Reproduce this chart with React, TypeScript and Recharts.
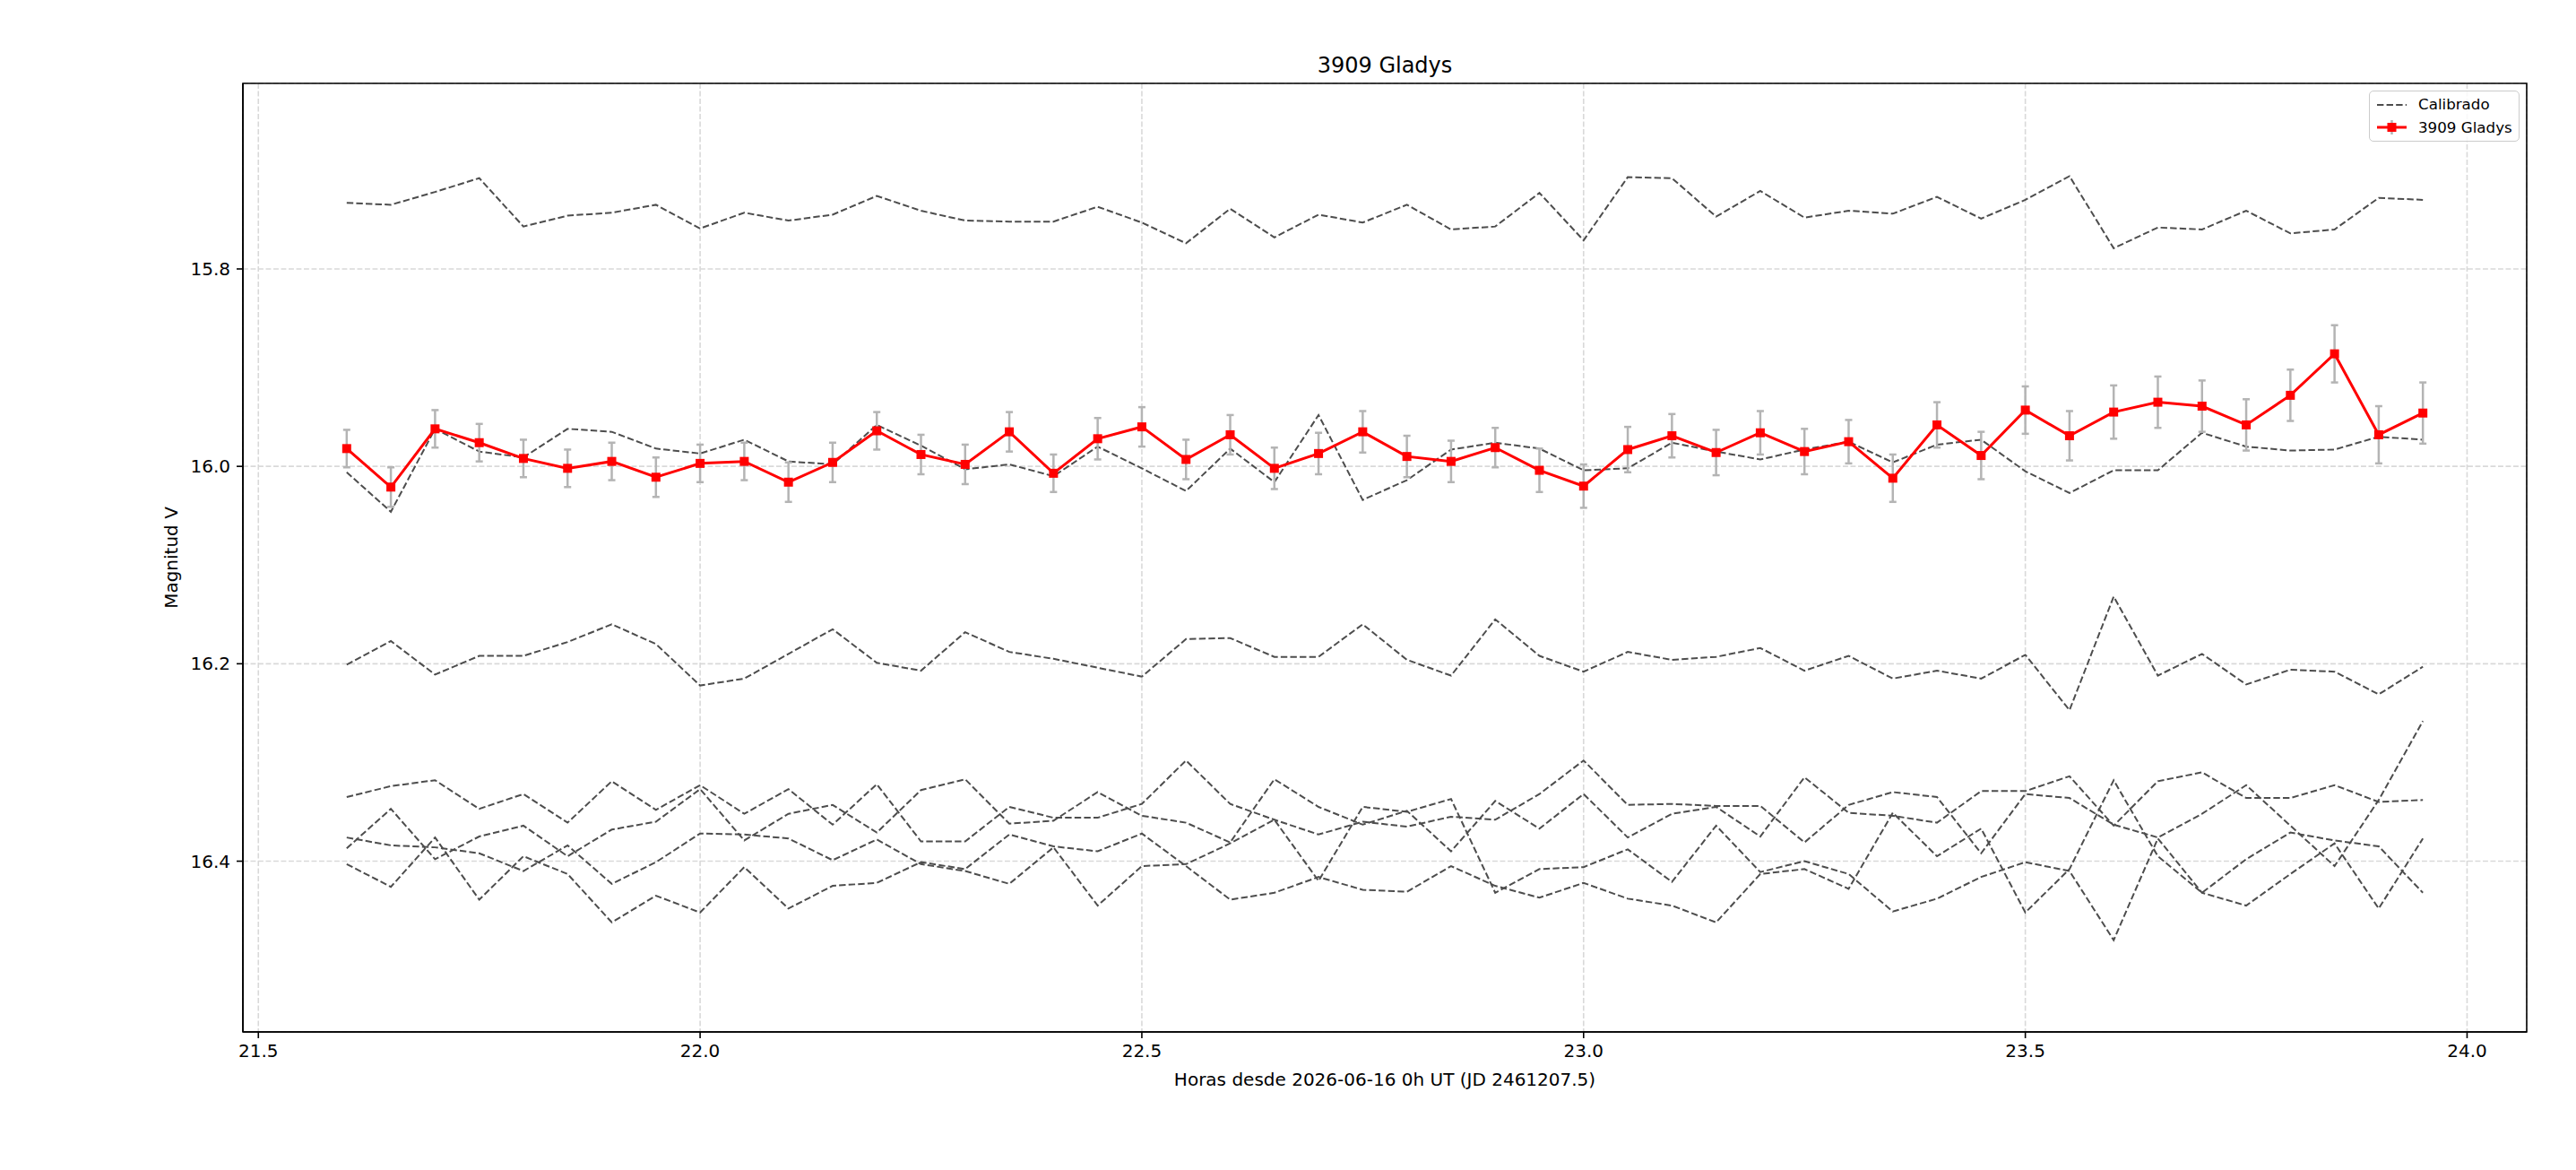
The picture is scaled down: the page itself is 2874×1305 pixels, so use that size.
import { LineChart, Line, XAxis, YAxis, CartesianGrid, ErrorBar, ReferenceArea } from 'recharts';

// hours since 2026-06-16 0h UT
const hours = [
  21.6, 21.65, 21.7, 21.75, 21.8, 21.85, 21.9, 21.95, 22.0, 22.05, 22.1, 22.15,
  22.2, 22.25, 22.3, 22.35, 22.4, 22.45, 22.5, 22.55, 22.6, 22.65, 22.7, 22.75,
  22.8, 22.85, 22.9, 22.95, 23.0, 23.05, 23.1, 23.15, 23.2, 23.25, 23.3, 23.35,
  23.4, 23.45, 23.5, 23.55, 23.6, 23.65, 23.7, 23.75, 23.8, 23.85, 23.9, 23.95,
];

const gladys = [
  15.982, 16.021, 15.962, 15.976, 15.992, 16.002, 15.995, 16.011, 15.997, 15.995, 16.016, 15.996,
  15.964, 15.988, 15.998, 15.965, 16.007, 15.972, 15.96, 15.993, 15.968, 16.002, 15.987, 15.965,
  15.99, 15.995, 15.981, 16.004, 16.02, 15.983, 15.969, 15.986, 15.966, 15.985, 15.975, 16.012,
  15.958, 15.989, 15.943, 15.969, 15.945, 15.935, 15.939, 15.958, 15.928, 15.886, 15.968, 15.946,
];

const gladysErr = [
  0.019, 0.02, 0.019, 0.019, 0.019, 0.019, 0.019, 0.02, 0.019, 0.019, 0.02, 0.02,
  0.019, 0.02, 0.02, 0.02, 0.019, 0.021, 0.02, 0.02, 0.02, 0.021, 0.021, 0.021,
  0.021, 0.021, 0.02, 0.022, 0.022, 0.023, 0.022, 0.023, 0.022, 0.023, 0.022, 0.024,
  0.023, 0.024, 0.024, 0.025, 0.027, 0.026, 0.026, 0.026, 0.026, 0.029, 0.029, 0.031,
];

// comparison stars (calibrated)
const cal1 = [
  15.733, 15.735, 15.722, 15.708, 15.757, 15.746, 15.743, 15.735, 15.759, 15.743, 15.751, 15.745,
  15.726, 15.741, 15.751, 15.752, 15.752, 15.737, 15.753, 15.774, 15.739, 15.768, 15.745, 15.753,
  15.735, 15.76, 15.757, 15.723, 15.771, 15.707, 15.708, 15.747, 15.721, 15.748, 15.741, 15.744,
  15.727, 15.749, 15.73, 15.706, 15.779, 15.758, 15.76, 15.741, 15.764, 15.76, 15.728, 15.73,
];
const cal2 = [
  16.006, 16.046, 15.962, 15.985, 15.991, 15.962, 15.965, 15.982, 15.987, 15.973, 15.995, 15.998,
  15.958, 15.979, 16.003, 15.998, 16.01, 15.98, 16.002, 16.025, 15.982, 16.016, 15.948, 16.034,
  16.014, 15.983, 15.976, 15.982, 16.004, 16.002, 15.976, 15.985, 15.993, 15.983, 15.975, 15.996,
  15.978, 15.973, 16.005, 16.027, 16.004, 16.004, 15.966, 15.98, 15.984, 15.983, 15.97, 15.973,
];
const cal3 = [
  16.201, 16.177, 16.211, 16.192, 16.192, 16.178, 16.16, 16.18, 16.222, 16.215, 16.19, 16.165,
  16.199, 16.207, 16.168, 16.188, 16.195, 16.204, 16.213, 16.175, 16.174, 16.193, 16.193, 16.16,
  16.196, 16.212, 16.155, 16.192, 16.208, 16.188, 16.196, 16.193, 16.184, 16.207, 16.192, 16.215,
  16.207, 16.215, 16.191, 16.247, 16.132, 16.212, 16.19, 16.221, 16.206, 16.208, 16.231, 16.203,
];
const cal4 = [
  16.335, 16.324, 16.318, 16.347, 16.332, 16.361, 16.319, 16.348, 16.323, 16.352, 16.327, 16.363,
  16.322, 16.38, 16.38, 16.345, 16.356, 16.356, 16.342, 16.298, 16.342, 16.358, 16.373, 16.36,
  16.365, 16.355, 16.358, 16.332, 16.298, 16.343, 16.342, 16.344, 16.344, 16.381, 16.343, 16.33,
  16.335, 16.392, 16.332, 16.336, 16.363, 16.376, 16.352, 16.323, 16.364, 16.405, 16.338, 16.258,
];
const cal5 = [
  16.387, 16.347, 16.398, 16.375, 16.364, 16.395, 16.368, 16.36, 16.327, 16.379, 16.352, 16.343,
  16.371, 16.328, 16.317, 16.362, 16.359, 16.33, 16.354, 16.361, 16.381, 16.317, 16.345, 16.363,
  16.349, 16.39, 16.339, 16.367, 16.332, 16.376, 16.352, 16.345, 16.375, 16.315, 16.351, 16.354,
  16.361, 16.329, 16.329, 16.314, 16.364, 16.319, 16.31, 16.336, 16.336, 16.323, 16.34, 16.338,
];
const cal6 = [
  16.376, 16.384, 16.386, 16.392, 16.41, 16.384, 16.423, 16.401, 16.372, 16.373, 16.377, 16.399,
  16.378, 16.403, 16.41, 16.423, 16.386, 16.445, 16.405, 16.403, 16.382, 16.358, 16.42, 16.345,
  16.35, 16.337, 16.432, 16.408, 16.406, 16.388, 16.421, 16.364, 16.411, 16.4, 16.413, 16.451,
  16.438, 16.416, 16.401, 16.41, 16.48, 16.377, 16.432, 16.445, 16.413, 16.382, 16.448, 16.377,
];
const cal7 = [
  16.403, 16.426, 16.376, 16.439, 16.395, 16.413, 16.462, 16.435, 16.452, 16.406, 16.448, 16.425,
  16.422, 16.401, 16.408, 16.373, 16.385, 16.39, 16.372, 16.405, 16.439, 16.432, 16.416, 16.429,
  16.431, 16.405, 16.425, 16.437, 16.422, 16.438, 16.445, 16.462, 16.413, 16.408, 16.428, 16.351,
  16.395, 16.367, 16.452, 16.408, 16.318, 16.395, 16.432, 16.398, 16.371, 16.379, 16.385, 16.432,
];

const xTicks = [21.5, 22.0, 22.5, 23.0, 23.5, 24.0];
const yTicks = [15.8, 16.0, 16.2, 16.4];
const xDomain: [number, number] = [21.4825, 24.0675];
const yDomain: [number, number] = [15.612, 16.573];

const calSeries = [cal1, cal2, cal3, cal4, cal5, cal6, cal7];
const calKeys = calSeries.map((_, k) => `c${k + 1}`);

const rows = hours.map((h, i) => {
  const row: Record<string, number> = { h, gladys: gladys[i], err: gladysErr[i] };
  calSeries.forEach((s, k) => {
    row[calKeys[k]] = s[i];
  });
  return row;
});

const FONT = '"DejaVu Sans", sans-serif';
const CAL_COLOR = '#4d4d4d';
const CAL_DASH = '7.4 3.2';

const SquareDot = (props: any) => {
  const { cx, cy, index } = props;
  if (cx == null || cy == null) return null;
  return <rect key={`sq-${index}`} x={cx - 5} y={cy - 5} width={10} height={10} fill="#ff0000" />;
};

const tickStyle = { fontSize: 20, fill: '#000', fontFamily: FONT };

export default function App() {
  return (
    <div
      style={{
        position: 'absolute',
        left: 0,
        top: 0,
        width: 2874,
        height: 1305,
        background: '#fff',
        fontFamily: FONT,
        color: '#000',
      }}
    >
      <LineChart
        width={2874}
        height={1305}
        data={rows}
        margin={{ top: 93, right: 55, bottom: 114, left: 191 }}
        style={{ position: 'absolute', left: 0, top: 0 }}
      >
        <CartesianGrid stroke="#d9d9d9" strokeWidth={1.6} strokeDasharray="5.9 2.6" />
        <XAxis
          dataKey="h"
          type="number"
          domain={xDomain}
          allowDataOverflow
          ticks={xTicks}
          tickFormatter={(v: number) => v.toFixed(1)}
          height={40}
          tickSize={7}
          tickMargin={7}
          tick={tickStyle}
          axisLine={{ stroke: '#000', strokeWidth: 1.6 }}
          tickLine={{ stroke: '#000', strokeWidth: 1.6 }}
        />
        <YAxis
          type="number"
          domain={yDomain}
          allowDataOverflow
          reversed
          ticks={yTicks}
          tickFormatter={(v: number) => v.toFixed(1)}
          width={80}
          tickSize={7}
          tickMargin={7}
          tick={tickStyle}
          axisLine={{ stroke: '#000', strokeWidth: 1.6 }}
          tickLine={{ stroke: '#000', strokeWidth: 1.6 }}
        />
        <ReferenceArea
          x1={xDomain[0]}
          x2={xDomain[1]}
          y1={yDomain[0]}
          y2={yDomain[1]}
          fill="none"
          stroke="#000"
          strokeWidth={1.6}
          ifOverflow="visible"
        />
        {calKeys.map((k) => (
          <Line
            key={k}
            dataKey={k}
            type="linear"
            stroke={CAL_COLOR}
            strokeWidth={2}
            strokeDasharray={CAL_DASH}
            dot={false}
            activeDot={false}
            isAnimationActive={false}
          />
        ))}
        <Line
          dataKey="gladys"
          type="linear"
          stroke="#ff0000"
          strokeWidth={3}
          dot={SquareDot}
          activeDot={false}
          isAnimationActive={false}
        >
          <ErrorBar dataKey="err" direction="y" width={4} stroke="#b4b4b4" strokeWidth={2.5} isAnimationActive={false} />
        </Line>
      </LineChart>

      {/* title */}
      <div
        style={{
          position: 'absolute',
          left: 1545,
          top: 73,
          transform: 'translate(-50%, -50%)',
          fontSize: 24,
          whiteSpace: 'nowrap',
        }}
      >
        3909 Gladys
      </div>

      {/* x label */}
      <div
        style={{
          position: 'absolute',
          left: 1545,
          top: 1204,
          transform: 'translate(-50%, -50%)',
          fontSize: 20,
          whiteSpace: 'nowrap',
        }}
      >
        Horas desde 2026-06-16 0h UT (JD 2461207.5)
      </div>

      {/* y label */}
      <div
        style={{
          position: 'absolute',
          left: 191,
          top: 622,
          transform: 'translate(-50%, -50%) rotate(-90deg)',
          fontSize: 20,
          whiteSpace: 'nowrap',
        }}
      >
        Magnitud V
      </div>

      {/* legend */}
      <div
        style={{
          position: 'absolute',
          left: 2643,
          top: 101,
          width: 168,
          height: 57,
          boxSizing: 'border-box',
          background: 'rgba(255,255,255,0.8)',
          border: '1.6px solid #cccccc',
          borderRadius: 5,
          padding: '2px 0 2px 8px',
          fontSize: 16.7,
          lineHeight: '25.5px',
          whiteSpace: 'nowrap',
        }}
      >
        <div style={{ display: 'flex', alignItems: 'center', height: 25.5 }}>
          <svg width={33} height={12} style={{ flexShrink: 0 }}>
            <line x1={0} y1={6} x2={33} y2={6} stroke={CAL_COLOR} strokeWidth={2} strokeDasharray={CAL_DASH} />
          </svg>
          <span style={{ marginLeft: 13 }}>Calibrado</span>
        </div>
        <div style={{ display: 'flex', alignItems: 'center', height: 25.5 }}>
          <svg width={33} height={20} style={{ flexShrink: 0 }}>
            <line x1={16.5} y1={2} x2={16.5} y2={18} stroke="#b4b4b4" strokeWidth={2.5} />
            <line x1={0} y1={10} x2={33} y2={10} stroke="#ff0000" strokeWidth={3} />
            <rect x={11.5} y={5} width={10} height={10} fill="#ff0000" />
          </svg>
          <span style={{ marginLeft: 13 }}>3909 Gladys</span>
        </div>
      </div>
    </div>
  );
}
